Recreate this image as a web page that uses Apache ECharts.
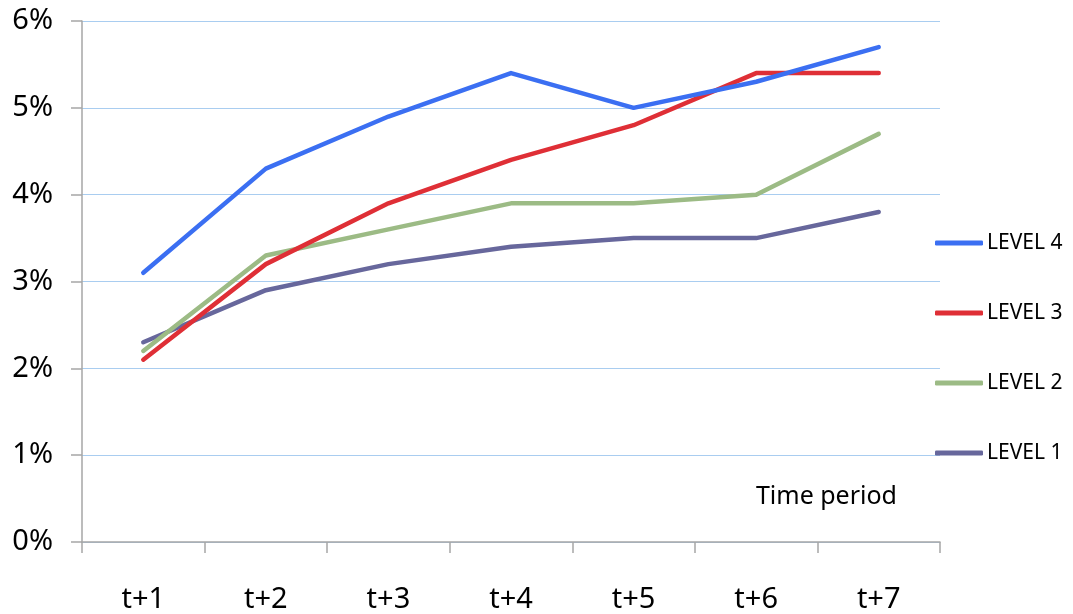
<!DOCTYPE html>
<html>
<head>
<meta charset="utf-8">
<script src="https://cdn.jsdelivr.net/npm/echarts@6/dist/echarts.min.js"></script>
<style>html,body{margin:0;padding:0;background:#fff}#c{width:1073px;height:614px}</style>
</head>
<body>
<div id="c"></div>
<script>
const categories = ['t+1', 't+2', 't+3', 't+4', 't+5', 't+6', 't+7'];
const level4 = [3.1, 4.3, 4.9, 5.4, 5.0, 5.3, 5.7];
const level3 = [2.1, 3.2, 3.9, 4.4, 4.8, 5.4, 5.4];
const level2 = [2.2, 3.3, 3.6, 3.9, 3.9, 4.0, 4.7];
const level1 = [2.3, 2.9, 3.2, 3.4, 3.5, 3.5, 3.8];
const seriesNames = ['LEVEL 4', 'LEVEL 3', 'LEVEL 2', 'LEVEL 1'];
const colors = ['#3b6ff2', '#df2f36', '#9cbb85', '#67679c'];

const font = '"Noto Sans", "Open Sans", sans-serif';
const chart = echarts.init(document.getElementById('c'));

const mk = (name, data, color, z) => ({
  name, type: 'line', data, color, z,
  showSymbol: false, symbol: 'none',
  lineStyle: { width: 4.5, color, cap: 'round', join: 'round' },
  emphasis: { disabled: true }
});

chart.setOption({
  animation: false,
  textStyle: { fontFamily: font },
  grid: { left: 82, right: 133, top: 21, bottom: 71 },
  xAxis: {
    type: 'category',
    data: categories,
    boundaryGap: true,
    axisLine: { lineStyle: { color: '#a6a6a6', width: 1.5 } },
    axisTick: { show: true, length: 11, lineStyle: { color: '#a6a6a6', width: 1.5 } },
    axisLabel: { margin: 43, fontSize: 29, color: '#000', fontFamily: font },
    splitLine: { show: false }
  },
  yAxis: {
    type: 'value',
    min: 0, max: 6, interval: 1,
    axisLine: { show: true, lineStyle: { color: '#a6a6a6', width: 1.5 } },
    axisTick: { show: true, length: 11, lineStyle: { color: '#a6a6a6', width: 1.5 } },
    axisLabel: { margin: 29, fontSize: 29, color: '#000', fontFamily: font, formatter: '{value}%' },
    splitLine: { lineStyle: { color: '#a9cdf0', width: 1 } }
  },
  legend: {
    orient: 'vertical',
    left: 930, top: 226,
    icon: 'roundRect',
    itemWidth: 48, itemHeight: 5,
    itemGap: 46,
    data: seriesNames,
    textStyle: { fontSize: 21, color: '#000', fontFamily: font, padding: [0, 0, 0, -1], lineHeight: 24 }
  },
  graphic: [{
    type: 'text', right: 176, top: 484,
    style: { text: 'Time period', fontSize: 25, fill: '#000', fontFamily: font }
  }],
  series: [
    mk('LEVEL 1', level1, colors[3], 1),
    mk('LEVEL 2', level2, colors[2], 2),
    mk('LEVEL 3', level3, colors[1], 3),
    mk('LEVEL 4', level4, colors[0], 4)
  ]
});
</script>
</body>
</html>
